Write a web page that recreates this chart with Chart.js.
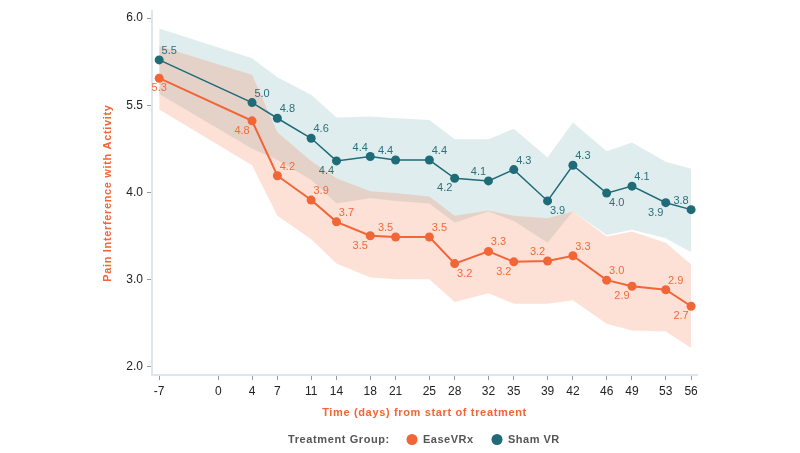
<!DOCTYPE html>
<html><head><meta charset="utf-8">
<script src="https://cdn.jsdelivr.net/npm/chart.js@4"></script>
<style>html,body{margin:0;padding:0;background:#fff;}#wrap{width:800px;height:453px;}</style>
</head><body><div id="wrap"><canvas id="c" width="800" height="453"></canvas></div>
<script>
const days = [-7, 4, 7, 11, 14, 18, 21, 25, 28, 32, 35, 39, 42, 46, 49, 53, 56];
const xTickValues = [-7, 0, 4, 7, 11, 14, 18, 21, 25, 28, 32, 35, 39, 42, 46, 49, 53, 56];
const yTickValues = [2, 3, 4, 5, 6];
const yTickLabels = ['2.0', '3.0', '4.0', '5.5', '6.0'];
const seriesNames = ['EaseVRx', 'Sham VR'];
const legendTitle = 'Treatment Group:';
const xTitle = 'Time (days) from start of treatment';
const yTitle = 'Pain Interference with Activity';

const easeMean  = [5.31, 4.82, 4.19, 3.91, 3.66, 3.50, 3.485, 3.485, 3.18, 3.32, 3.20, 3.21, 3.27, 2.99, 2.92, 2.88, 2.69];
const easeUpper = [5.68, 5.35, 4.69, 4.36, 4.16, 4.01, 3.99, 3.95, 3.73, 3.79, 3.73, 3.70, 3.78, 3.49, 3.55, 3.42, 3.17];
const easeLower = [4.95, 4.31, 3.73, 3.46, 3.18, 3.02, 3.00, 3.00, 2.74, 2.84, 2.72, 2.72, 2.76, 2.49, 2.41, 2.40, 2.21];

const shamMean  = [5.52, 5.03, 4.85, 4.62, 4.36, 4.41, 4.37, 4.37, 4.16, 4.13, 4.26, 3.90, 4.31, 3.99, 4.07, 3.88, 3.80];
const shamUpper = [5.88, 5.54, 5.32, 5.12, 4.86, 4.87, 4.85, 4.83, 4.61, 4.61, 4.73, 4.40, 4.80, 4.47, 4.57, 4.35, 4.27];
const shamLower = [5.13, 4.50, 4.37, 4.14, 3.87, 3.93, 3.90, 3.87, 3.65, 3.78, 3.67, 3.42, 3.78, 3.51, 3.57, 3.47, 3.31];

const ORANGE = '#f26536';
const TEAL = '#1f6b78';
const FONT = '"Liberation Sans", Arial, Helvetica, sans-serif';

const pts = arr => days.map((d, i) => ({x: d, y: arr[i]}));

// label placement (style): a = above, b = below, l = left, r = right
const easePlace = ['b','bl','ar','ar','ar','bl','al','ar','br','ar','bl','al','ar','ar','bl','ar','bl'];
const shamPlace = ['ar','ar','ar','ar','bl','al','al','ar','bl','al','ar','br','ar','br','ar','bl','al'];

const labelPlugin = {
  id: 'pointLabels',
  afterDatasetsDraw(chart) {
    const ctx = chart.ctx;
    ctx.save();
    ctx.font = '11px ' + FONT;
    ctx.textAlign = 'center';
    ctx.textBaseline = 'middle';
    chart.data.datasets.forEach((ds, di) => {
      if (!ds.placements) return;
      const meta = chart.getDatasetMeta(di);
      ctx.fillStyle = ds.labelColor;
      meta.data.forEach((p, i) => {
        const pl = ds.placements[i];
        let dx = 0, dy = 0;
        if (pl.includes('a')) dy = -9;
        if (pl.includes('b')) dy = 10;
        if (pl.includes('l')) dx = -10;
        if (pl.includes('r')) dx = 10;
        ctx.fillText(ds.data[i].y.toFixed(1), p.x + dx, p.y + dy);
      });
    });
    ctx.restore();
  }
};

function spacedText(ctx, text, x, y, spacing) {
  if ('letterSpacing' in ctx) {
    ctx.letterSpacing = spacing + 'px';
    ctx.fillText(text, x, y);
    ctx.letterSpacing = '0px';
  } else {
    ctx.fillText(text, x, y);
  }
}

const decorPlugin = {
  id: 'decor',
  afterDraw(chart) {
    const ctx = chart.ctx;
    const ca = chart.chartArea;
    ctx.save();
    // x title
    ctx.fillStyle = ORANGE;
    ctx.font = 'bold 11px ' + FONT;
    ctx.textAlign = 'center';
    ctx.textBaseline = 'middle';
    spacedText(ctx, xTitle, (ca.left + ca.right) / 2, 413, 0.65);
    // y title
    ctx.save();
    ctx.translate(108, (ca.top + ca.bottom) / 2);
    ctx.rotate(-Math.PI / 2);
    spacedText(ctx, yTitle, 0, 0, 0.65);
    ctx.restore();
    // legend
    ctx.fillStyle = '#555';
    ctx.font = 'bold 11px ' + FONT;
    ctx.textAlign = 'left';
    spacedText(ctx, legendTitle, 288, 440, 0.6);
    const items = [[412, 423, ORANGE, seriesNames[0]], [497, 508, TEAL, seriesNames[1]]];
    items.forEach(([cx, tx, col, name]) => {
      ctx.beginPath();
      ctx.arc(cx, 439.5, 5.5, 0, Math.PI * 2);
      ctx.fillStyle = col;
      ctx.fill();
      ctx.fillStyle = '#555';
      spacedText(ctx, name, tx, 440, 0.5);
    });
    ctx.restore();
  }
};

const band = (arr, color, fill, order) => ({
  data: pts(arr), borderWidth: 0, pointRadius: 0, pointHoverRadius: 0,
  backgroundColor: color, fill: fill, order: order, tension: 0
});

new Chart(document.getElementById('c'), {
  type: 'line',
  data: {
    datasets: [
      band(shamLower, 'rgba(0,0,0,0)', false, 5),
      band(shamUpper, 'rgba(64,140,150,0.16)', '-1', 5),
      band(easeLower, 'rgba(0,0,0,0)', false, 4),
      band(easeUpper, 'rgba(245,120,70,0.22)', '-1', 4),
      {
        label: seriesNames[0], data: pts(easeMean), borderColor: ORANGE, backgroundColor: ORANGE,
        borderWidth: 2, pointRadius: 4.5, pointBackgroundColor: ORANGE, pointBorderWidth: 0,
        fill: false, order: 1, tension: 0, placements: easePlace, labelColor: '#f26a3d'
      },
      {
        label: seriesNames[1], data: pts(shamMean), borderColor: TEAL, backgroundColor: TEAL,
        borderWidth: 1.5, pointRadius: 4.5, pointBackgroundColor: TEAL, pointBorderWidth: 0,
        fill: false, order: 0, tension: 0, placements: shamPlace, labelColor: '#2b6f7b'
      }
    ]
  },
  options: {
    responsive: false, animation: false, devicePixelRatio: 1,
    layout: {padding: {top: 5, right: 103, left: 0, bottom: 0}},
    plugins: {legend: {display: false}, tooltip: {enabled: false}},
    scales: {
      x: {
        type: 'linear', min: -7.85, max: 56.7,
        afterBuildTicks: s => { s.ticks = xTickValues.map(v => ({value: v})); },
        afterFit: s => { s.height = 78; },
        ticks: {autoSkip: false, maxRotation: 0, padding: 4, color: '#222', font: {family: FONT, size: 12},
          callback: v => String(v)},
        grid: {drawOnChartArea: false, tickLength: 5, color: '#9a9a9a'},
        border: {color: '#dbe7ee', width: 2}
      },
      y: {
        type: 'linear', min: 1.9, max: 6.08,
        afterBuildTicks: s => { s.ticks = yTickValues.map(v => ({value: v})); },
        afterFit: s => { s.width = 152; },
        ticks: {padding: 4, color: '#222', font: {family: FONT, size: 12},
          callback: v => yTickLabels[yTickValues.indexOf(v)]},
        grid: {drawOnChartArea: false, tickLength: 5, color: '#9a9a9a'},
        border: {color: '#dbe7ee', width: 2}
      }
    }
  },
  plugins: [labelPlugin, decorPlugin]
});
</script></body></html>
